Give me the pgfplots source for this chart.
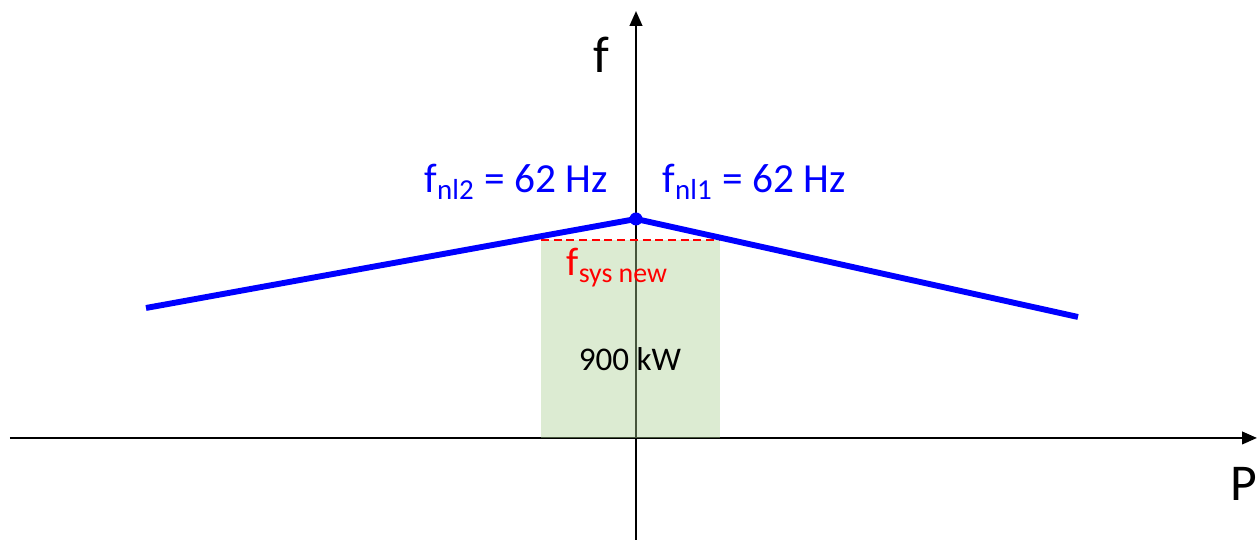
\documentclass[border=0pt]{standalone}
\usepackage{pgfplots}
\pgfplotsset{compat=1.18}
\usepackage{fontspec}
\setmainfont{Carlito}
\usetikzlibrary{arrows.meta}
\definecolor{rectgreen}{RGB}{170,207,146}
\begin{document}
\begin{tikzpicture}
\begin{axis}[
  width=15cm, height=6.452cm, scale only axis,
  xmin=0, xmax=1260, ymin=0, ymax=542,
  hide axis, clip=false,
]
\path[draw=none] (rel axis cs:0,0) rectangle (rel axis cs:1,1);
% axes
\addplot[black, line width=0.75pt, -{Triangle[length=5pt,width=4.2pt]}] coordinates {(10,104) (1257,104)};
\addplot[black, line width=0.75pt, -{Triangle[length=5pt,width=4.2pt]}] coordinates {(636,2) (636,531)};
% green region
\addplot[draw=none, fill=rectgreen, fill opacity=0.41] coordinates {(541,104) (720,104) (720,302) (541,302)} -- cycle;
% red dashed line
\addplot[red, line width=0.6pt, dash pattern=on 2.7pt off 1.6pt] coordinates {(541,302) (720,302)};
% droop lines
\addplot[blue, line width=2pt] coordinates {(146,234) (636,323) (1078,225)};
\addplot[blue, only marks, mark=*, mark size=2pt] coordinates {(636,323)};
% labels
\node[inner sep=0pt, font=\fontsize{17.5}{20}\selectfont] at (axis cs:601,487) {f};
\node[inner sep=0pt, font=\fontsize{17.5}{20}\selectfont] at (axis cs:1244,58) {P};
\node[inner sep=0pt, blue, font=\fontsize{14}{16}\selectfont, anchor=base west] at (axis cs:424,349) {f\textsubscript{nl2} = 62 Hz};
\node[inner sep=0pt, blue, font=\fontsize{14}{16}\selectfont, anchor=base west] at (axis cs:662,349) {f\textsubscript{nl1} = 62 Hz};
\node[inner sep=0pt, red, font=\fontsize{13.5}{15}\selectfont, anchor=base west] at (axis cs:566,266) {f\textsubscript{sys new}};
\node[inner sep=0pt, black, font=\fontsize{11.2}{14}\selectfont] at (axis cs:630,183) {900 kW};
\end{axis}
\end{tikzpicture}
\end{document}
